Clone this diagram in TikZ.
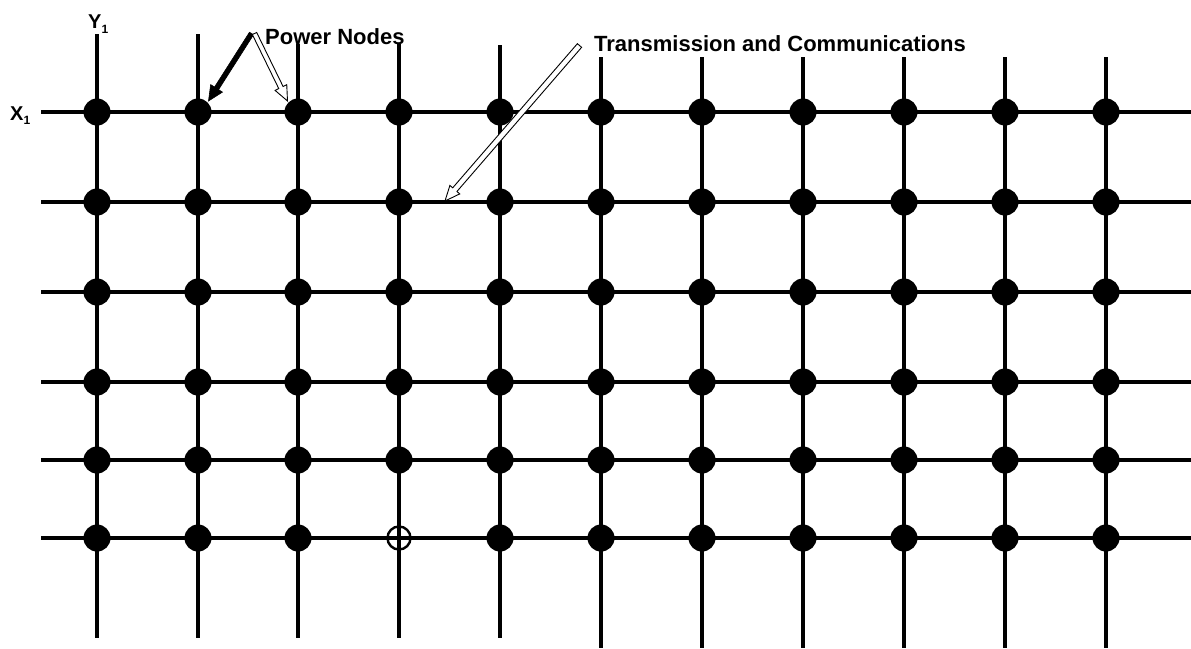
\documentclass[tikz,border=0pt]{standalone}
\usepackage{fontspec}
\setmainfont{Liberation Sans}
\usetikzlibrary{calc}
% block arrow: #1 style, #2 tail, #3 tip, #4 half shaft, #5 half head, #6 head length
\newcommand{\blockarrow}[6]{%
  \coordinate (ba-h) at ($(#3)!#6!(#2)$);
  \filldraw[#1] ($(#2)!#4!90:(#3)$) -- ($(ba-h)!#4!90:(#3)$) -- ($(ba-h)!#5!90:(#3)$) -- (#3)
     -- ($(ba-h)!#5!-90:(#3)$) -- ($(ba-h)!#4!-90:(#3)$) -- ($(#2)!#4!-90:(#3)$) -- cycle;}
\begin{document}
\begin{tikzpicture}[x=1pt,y=-1pt,
  gridline/.style={line width=3.6pt,black},
  dot/.style={circle,fill=black,inner sep=0pt,minimum size=27pt},
  opendot/.style={circle,draw=black,line width=2.4pt,inner sep=0pt,minimum size=23pt},
  lbl/.style={inner sep=0pt,anchor=base west,font=\bfseries\fontsize{22}{26}\selectfont},
  axislbl/.style={inner sep=0pt,anchor=base west,font=\bfseries\fontsize{20}{24}\selectfont},
  solidarrow/.style={fill=black,draw=black,line width=0.6pt,line join=miter},
  hollowarrow/.style={fill=white,draw=black,line width=0.9pt,line join=miter}]
\useasboundingbox (0,0) rectangle (1191,648);
% rows and columns
\def\rows{112,202,292,382,460,538}
\foreach \y [count=\j] in \rows {
  \coordinate (L\j) at (41,\y);
  \coordinate (R\j) at (1191,\y);
  \draw[gridline] (L\j) -- (R\j);
}
\foreach \x/\t/\b [count=\i] in {97/34/638,198/34/638,298/44/638,399/44/638,500/45/638,
   601/57/648,702/57/648,803/57/648,904/57/648,1005/57/648,1106/57/648} {
  \coordinate (T\i) at (\x,\t);
  \coordinate (B\i) at (\x,\b);
  \draw[gridline] (T\i) -- (B\i);
}
% nodes
\foreach \x [count=\i] in {97,198,298,399,500,601,702,803,904,1005,1106} {
  \foreach \y [count=\j] in \rows {
    \ifnum\i=4 \ifnum\j=6
      \node[opendot] (n\i-\j) at (\x,\y) {};
    \else
      \node[dot] (n\i-\j) at (\x,\y) {};
    \fi
    \else
      \node[dot] (n\i-\j) at (\x,\y) {};
    \fi
  }
}
% labels
\node[axislbl] (ylab) at (88,28) {Y\raisebox{-5pt}{\fontsize{12}{12}\selectfont 1}};
\node[axislbl] (xlab) at (10,120.5) {X\raisebox{-4pt}{\fontsize{12}{12}\selectfont 1}};
\node[lbl] (pn) at (265,44.3) {Power Nodes};
\node[lbl] (tc) at (594,51.7) {Transmission and Communications};
% arrows
\coordinate (pa1) at (251.5,33.5);
\coordinate (pa1t) at (208.5,101);
\coordinate (pa2) at (254.5,33.5);
\coordinate (pa2t) at (287.5,101);
\coordinate (ta) at (579.5,45.5);
\coordinate (tat) at (445,201);
\blockarrow{solidarrow}{pa1}{pa1t}{2.4pt}{7pt}{15pt}
\blockarrow{hollowarrow}{pa2}{pa2t}{2.4pt}{6.5pt}{15pt}
\blockarrow{hollowarrow}{ta}{tat}{2.8pt}{6.5pt}{15pt}
\end{tikzpicture}
\end{document}
